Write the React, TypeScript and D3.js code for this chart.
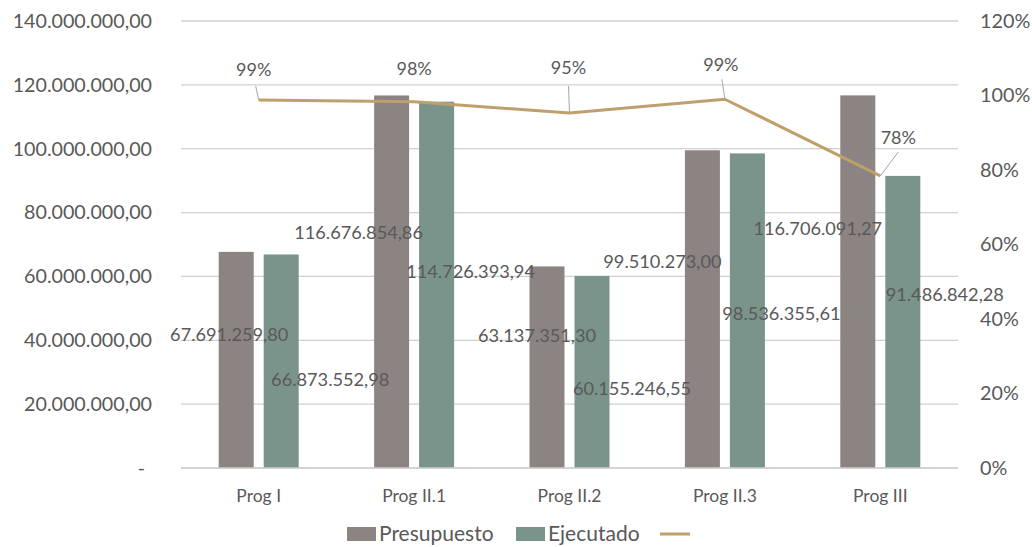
import React from "react";
import * as d3 from "d3";

const categories = ["Prog I", "Prog II.1", "Prog II.2", "Prog II.3", "Prog III"];
const presupuesto = [67691259.8, 116676854.86, 63137351.3, 99510273.0, 116706091.27];
const ejecutado = [66873552.98, 114726393.94, 60155246.55, 98536355.61, 91486842.28];
const ejecucion = [0.988, 0.983, 0.953, 0.99, 0.784];
const leftTicks = [0, 20000000, 40000000, 60000000, 80000000, 100000000, 120000000, 140000000];
const rightTicks = [0, 0.2, 0.4, 0.6, 0.8, 1.0, 1.2];
const seriesNames = ["Presupuesto", "Ejecutado"];

// label placement (pixel offsets, layout only)
const presLabelOff = [[-7, 83], [-33, 137], [-10, 69], [-40, 111], [-40, 133]];
const ejecLabelOff = [[49, 125], [34, 170], [40, 113], [34, 160], [42, 119]];
const pctLabelOff = [[-5, -30, -3, -14], [0, -33, 0, -33], [-1, -45, -1, -27], [-4, -35, -3, -20], [18, -38, 18, -24]];

const W = 1032, H = 547;
const L = 181, R = 958, T = 21, B = 468;
const textColor = "#595959";
const font = "Lato, 'Open Sans', sans-serif";

const fmt = (v: number) => {
  if (v === 0) return "-";
  const s = v.toFixed(2);
  const [i, d] = s.split(".");
  return i.replace(/\B(?=(\d{3})+(?!\d))/g, ".") + "," + d;
};

export default function App() {
  const x = d3.scaleBand<string>().domain(categories).range([L, R]);
  const y = d3.scaleLinear().domain([0, 140000000]).range([B, T]);
  const y2 = d3.scaleLinear().domain([0, 1.2]).range([B, T]);
  const bw = 35, off = 22.5;
  const cx = (c: string) => (x(c) as number) + x.bandwidth() / 2;
  const line = d3.line<number>().x((_, i) => cx(categories[i])).y((d) => y2(d));
  return (
    <svg width={W} height={H} style={{ position: "absolute", left: 0, top: 0, background: "#fff" }} fontFamily={font}>
      {leftTicks.map((t) => (
        <g key={t}>
          <line x1={L} x2={R} y1={y(t)} y2={y(t)} stroke="#d0d0d0" strokeWidth={1.3} />
          <text x={t === 0 ? 145 : 152} y={y(t)} dy="0.35em" textAnchor="end" fontSize={19.7} fill={textColor}>{fmt(t)}</text>
        </g>
      ))}
      {rightTicks.map((t) => (
        <text key={t} x={980} y={y2(t)} dy="0.35em" fontSize={19.8} fill={textColor}>{Math.round(t * 100) + "%"}</text>
      ))}
      {categories.map((c, i) => (
        <g key={c}>
          <rect x={cx(c) - off - bw / 2} y={y(presupuesto[i])} width={bw} height={B - y(presupuesto[i])} fill="#8b8482" />
          <rect x={cx(c) + off - bw / 2} y={y(ejecutado[i])} width={bw} height={B - y(ejecutado[i])} fill="#7a948b" />
          <text x={cx(c)} y={496} textAnchor="middle" dy="0.35em" fontSize={17.5} fill={textColor}>{c}</text>
        </g>
      ))}
      <line x1={L} x2={R} y1={B} y2={B} stroke="#d0d0d0" strokeWidth={1.3} />
      <path d={line(ejecucion) as string} fill="none" stroke="#bf9f6b" strokeWidth={3} strokeLinejoin="round" />
      {categories.map((c, i) => {
        const px = cx(c), py = y2(ejecucion[i]);
        const [tx, ty, lx, ly] = pctLabelOff[i];
        return (
          <g key={"p" + c}>
            {i !== 1 && <line x1={px} y1={py} x2={px + lx} y2={py + ly} stroke="#a6a6a6" strokeWidth={1} />}
            <text x={px + tx} y={py + ty} dy="0.35em" textAnchor="middle" fontSize={18} fill={textColor}>{Math.round(ejecucion[i] * 100) + "%"}</text>
          </g>
        );
      })}
      {categories.map((c, i) => (
        <g key={"l" + c}>
          <text x={cx(c) - off + presLabelOff[i][0]} y={y(presupuesto[i]) + presLabelOff[i][1]} dy="0.35em" textAnchor="middle" fontSize={18.2} fill={textColor}>{fmt(presupuesto[i])}</text>
          <text x={cx(c) + off + ejecLabelOff[i][0]} y={y(ejecutado[i]) + ejecLabelOff[i][1]} dy="0.35em" textAnchor="middle" fontSize={18.2} fill={textColor}>{fmt(ejecutado[i])}</text>
        </g>
      ))}
      <g>
        <rect x={347} y={527} width={29} height={14} fill="#8b8482" />
        <text x={379} y={534} dy="0.35em" fontSize={21} fill={textColor}>{seriesNames[0]}</text>
        <rect x={516} y={527} width={29} height={14} fill="#7a948b" />
        <text x={548} y={534} dy="0.35em" fontSize={21} fill={textColor}>{seriesNames[1]}</text>
        <line x1={660} x2={690} y1={534} y2={534} stroke="#bf9f6b" strokeWidth={3} />
      </g>
    </svg>
  );
}
